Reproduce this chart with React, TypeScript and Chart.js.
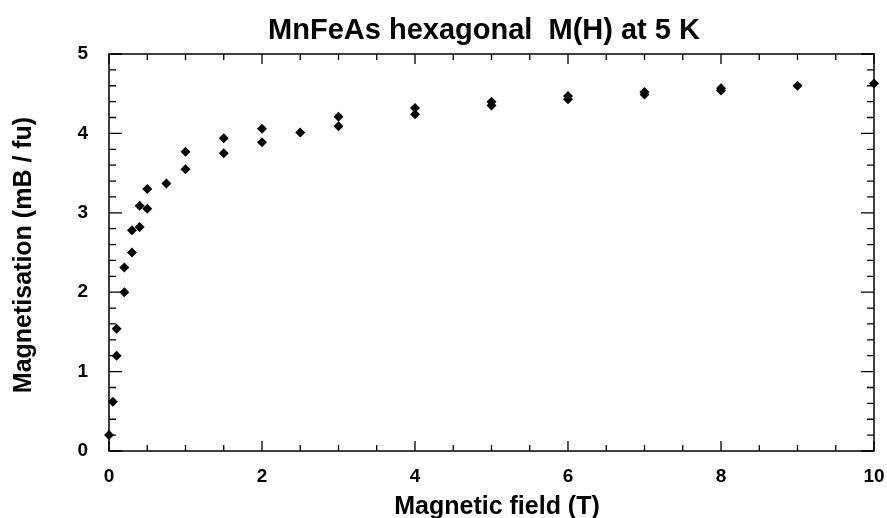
import React, { useEffect, useRef } from "react";
import { Chart, registerables } from "chart.js";

Chart.register(...registerables);

const chartTitle = "MnFeAs hexagonal  M(H) at 5 K";
const xAxisTitle = "Magnetic field (T)";
const yAxisTitle = "Magnetisation (mB / fu)";

const fieldT = [0, 0.05, 0.1, 0.1, 0.2, 0.2, 0.3, 0.3, 0.4, 0.4, 0.5, 0.5, 0.75, 1, 1, 1.5, 1.5, 2, 2, 2.5, 3, 3, 4, 4, 5, 5, 6, 6, 7, 7, 8, 8, 9, 10];
const magnetisation = [0.2, 0.62, 1.2, 1.54, 2.0, 2.31, 2.5, 2.78, 2.82, 3.09, 3.05, 3.3, 3.37, 3.55, 3.77, 3.75, 3.94, 3.89, 4.06, 4.01, 4.09, 4.21, 4.24, 4.32, 4.35, 4.4, 4.43, 4.47, 4.49, 4.52, 4.54, 4.57, 4.6, 4.63];

const xMin = 0, xMax = 10, xMajorStep = 2, xMinorStep = 0.5;
const yMin = 0, yMax = 5, yMajorStep = 1, yMinorStep = 0.2;

const FONT = "'Liberation Sans', Arial, Helvetica, sans-serif";

const framePlugin = {
  id: "frameTicks",
  afterDraw(chart: any) {
    const { ctx, chartArea: a, scales } = chart;
    const xs = scales.x, ys = scales.y;
    ctx.save();
    ctx.strokeStyle = "#000";
    ctx.lineWidth = 1.5;
    ctx.strokeRect(a.left, a.top, a.right - a.left, a.bottom - a.top);
    ctx.lineWidth = 1.3;
    ctx.beginPath();
    for (let i = 0; i <= Math.round((xMax - xMin) / xMinorStep); i++) {
      const v = xMin + i * xMinorStep;
      const major = Math.abs(v / xMajorStep - Math.round(v / xMajorStep)) < 1e-6;
      const len = major ? 10 : 6;
      const px = xs.getPixelForValue(v);
      ctx.moveTo(px, a.bottom);
      ctx.lineTo(px, a.bottom - len);
      ctx.moveTo(px, a.top);
      ctx.lineTo(px, a.top + len);
    }
    for (let i = 0; i <= Math.round((yMax - yMin) / yMinorStep); i++) {
      const v = yMin + i * yMinorStep;
      const major = Math.abs(v / yMajorStep - Math.round(v / yMajorStep)) < 1e-6;
      const len = major ? 13 : 7;
      const py = ys.getPixelForValue(v);
      ctx.moveTo(a.left, py);
      ctx.lineTo(a.left + len, py);
      ctx.moveTo(a.right, py);
      ctx.lineTo(a.right - len, py);
    }
    ctx.stroke();

    ctx.fillStyle = "#000";
    ctx.textAlign = "center";
    ctx.textBaseline = "alphabetic";
    ctx.font = `bold 29px ${FONT}`;
    ctx.fillText(chartTitle, 484, 39);
    ctx.font = `bold 25px ${FONT}`;
    ctx.fillText(xAxisTitle, 497, 514);
    ctx.translate(31, 255);
    ctx.rotate(-Math.PI / 2);
    ctx.fillText(yAxisTitle, 0, 0);
    ctx.restore();
  },
};

export default function App() {
  const ref = useRef<HTMLCanvasElement>(null);
  useEffect(() => {
    if (!ref.current) return;
    const chart = new Chart(ref.current, {
      type: "scatter",
      data: {
        datasets: [
          {
            data: fieldT.map((x, i) => ({ x, y: magnetisation[i] })),
            pointStyle: "rectRot",
            pointRadius: 5,
            backgroundColor: "#000",
            borderColor: "#000",
            borderWidth: 0,
            clip: false,
          },
        ],
      },
      options: {
        responsive: false,
        animation: false,
        layout: { padding: { top: 54, right: 13, left: 0, bottom: 0 } },
        plugins: { legend: { display: false }, tooltip: { enabled: false } },
        scales: {
          x: {
            type: "linear",
            min: xMin,
            max: xMax,
            afterFit: (s: any) => { s.height = 67; s.paddingLeft = 0; s.paddingRight = 0; },
            grid: { display: false, drawTicks: false },
            border: { display: false },
            ticks: { stepSize: xMajorStep, padding: 14, color: "#000", font: { family: FONT, size: 19, weight: "bold" } },
          },
          y: {
            type: "linear",
            min: yMin,
            max: yMax,
            afterFit: (s: any) => { s.width = 109; s.paddingTop = 0; s.paddingBottom = 0; },
            grid: { display: false, drawTicks: false },
            border: { display: false },
            ticks: { stepSize: yMajorStep, padding: 21, color: "#000", font: { family: FONT, size: 19, weight: "bold" } },
          },
        },
      },
      plugins: [framePlugin],
    });
    return () => chart.destroy();
  }, []);
  return (
    <div style={{ position: "fixed", left: 0, top: 0, width: 887, height: 518, background: "#fff" }}>
      <canvas ref={ref} width={887} height={518} />
    </div>
  );
}
